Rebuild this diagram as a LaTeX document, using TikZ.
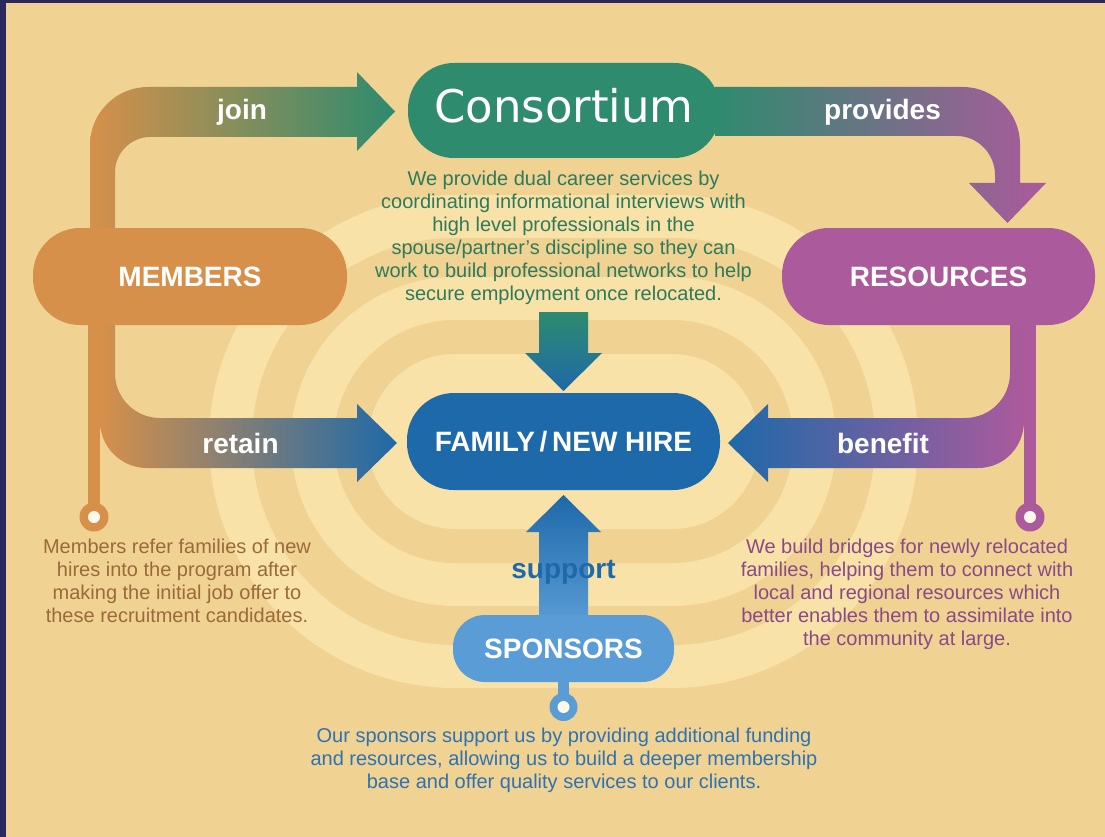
\documentclass[tikz,border=0pt]{standalone}
\usepackage{fontspec}
\setmainfont{Liberation Sans}
\newfontfamily\consfont{DejaVu Sans}
\definecolor{bgc}{HTML}{F0D293}
\definecolor{ringc}{HTML}{F8E2A8}
\definecolor{navy}{HTML}{2A285E}
\definecolor{cgreen}{HTML}{2E8B6E}
\definecolor{corange}{HTML}{D6904A}
\definecolor{cpurple}{HTML}{AB5A9C}
\definecolor{cblue}{HTML}{1E69A9}
\definecolor{clblue}{HTML}{5A9CD6}
\definecolor{tgreen}{HTML}{2E7A5C}
\definecolor{tbrown}{HTML}{9A6A3A}
\definecolor{tpurple}{HTML}{8A4A88}
\definecolor{tblue}{HTML}{2F72B2}
\definecolor{dotc}{HTML}{FFF8EC}
\begin{document}
\begin{tikzpicture}[x=1pt,y=-1pt,
  nbox/.style={fill=#1, text=white, inner sep=0pt, text height=20pt, text depth=0pt,
    font=\fontsize{28}{30}\selectfont\bfseries},
  lbl/.style={text=white, inner sep=0pt, anchor=base, font=\fontsize{28}{30}\selectfont\bfseries},
  ptext/.style={inner sep=0pt, anchor=north, align=center, font=\fontsize{20}{23}\selectfont},
  ringdot/.style={fill=dotc}
]
\useasboundingbox (0,0) rectangle (1105,837);
\fill[navy] (0,0) rectangle (1105,837);
\fill[bgc] (6,3) rectangle (1105,837);
% concentric rings
\foreach \d/\c in {198/ringc,155/bgc,116/ringc,73/bgc,39/ringc} {
  \pgfmathsetmacro\r{48+\d}
  \fill[\c, rounded corners=\r pt] (407-\d,393-\d) rectangle (720+\d,490+\d);
}
% join arrow
\shade[left color=corange, right color=cgreen] (90,232) -- (90,145) .. controls (90,113) and (116,87) .. (148,87) -- (357,87) -- (357,72) -- (395,111.5) -- (357,151) -- (357,137) -- (150,137) .. controls (131,137) and (115,153) .. (115,172) -- (115,232) -- cycle;
% provides arrow
\shade[left color=cgreen, right color=cpurple] (715,87) -- (963,87) .. controls (994,87) and (1020,113) .. (1020,144) -- (1020,183) -- (1046,183) -- (1007.5,223) -- (969,183) -- (995,183) -- (995,175) .. controls (995,154) and (978,136) .. (957,136) -- (715,136) -- cycle;
% retain arrow
\fill[corange] (88,322) rectangle (100,517);
\fill[corange] (94,517) circle (14.5);
\fill[ringdot] (94,517) circle (6);
\shade[left color=corange, right color=cblue] (100,322) -- (115,322) -- (115,373) .. controls (115,398) and (135,418) .. (160,418) -- (357,418) -- (357,404) -- (397,443) -- (357,482) -- (357,468) -- (147,468) .. controls (121,468) and (100,447) .. (100,421) -- cycle;
% benefit arrow
\fill[cpurple] (1024,322) rectangle (1036,517);
\fill[cpurple] (1030,517) circle (14.5);
\fill[ringdot] (1030,517) circle (6);
\shade[left color=cblue, right color=cpurple] (1024,322) -- (1010,322) -- (1010,373) .. controls (1010,398) and (990,418) .. (965,418) -- (768,418) -- (768,404) -- (728,443) -- (768,482) -- (768,468) -- (978,468) .. controls (1004,468) and (1024,447) .. (1024,421) -- cycle;
% down arrow
\shade[top color=cgreen, bottom color=cblue] (539,312) -- (588,312) -- (588,353) -- (602,353) -- (563.5,391) -- (525,353) -- (539,353) -- cycle;
% up arrow
\shade[top color=cblue, bottom color=clblue] (563.5,495) -- (601,532) -- (588,532) -- (588,625) -- (539,625) -- (539,532) -- (526,532) -- cycle;
% sponsors stem
\fill[clblue] (558,675) rectangle (569,707);
\fill[clblue] (563.5,707) circle (14);
\fill[ringdot] (563.5,707) circle (6);
% nodes
\node[nbox=cgreen, minimum width=312pt, minimum height=95pt, rounded corners=46pt,
  font=\consfont\fontsize{45}{50}\selectfont, text height=33pt, text depth=9pt] (cons) at (564,110.5) {Consortium};
\node[nbox=corange, minimum width=314pt, minimum height=97pt, rounded corners=47pt] (mem) at (190,276.5) {MEMBERS};
\node[nbox=cpurple, minimum width=313pt, minimum height=97pt, rounded corners=47pt] (res) at (938.5,276.5) {RESOURCES};
\node[nbox=cblue, minimum width=313pt, minimum height=97pt, rounded corners=47pt] (fam) at (563.5,441.5) {FAMILY\,/\,NEW HIRE};
\node[nbox=clblue, minimum width=221pt, minimum height=67pt, rounded corners=32pt] (spon) at (563.5,648.5) {SPONSORS};
% labels
\node[lbl] (ljoin) at (242,120) {join};
\node[lbl] (lprov) at (882.5,120) {provides};
\node[lbl] (lret) at (240.5,453) {retain};
\node[lbl] (lben) at (883,453) {benefit};
\node[lbl, text=cblue] (lsup) at (563.5,578) {support};
% texts
\node[ptext, text=tgreen] (tcons) at (563.5,170.5) {We provide dual career services by\\coordinating informational interviews with\\high level professionals in the\\spouse/partner's discipline so they can\\work to build professional networks to help\\secure employment once relocated.};
\node[ptext, text=tbrown] (tmem) at (177,538.5) {Members refer families of new\\hires into the program after\\making the initial job offer to\\these recruitment candidates.};
\node[ptext, text=tpurple] (tres) at (907,538.5) {We build bridges for newly relocated\\families, helping them to connect with\\local and regional resources which\\better enables them to assimilate into\\the community at large.};
\node[ptext, text=tblue] (tspon) at (564,727.5) {Our sponsors support us by providing additional funding\\and resources, allowing us to build a deeper membership\\base and offer quality services to our clients.};
\end{tikzpicture}
\end{document}
